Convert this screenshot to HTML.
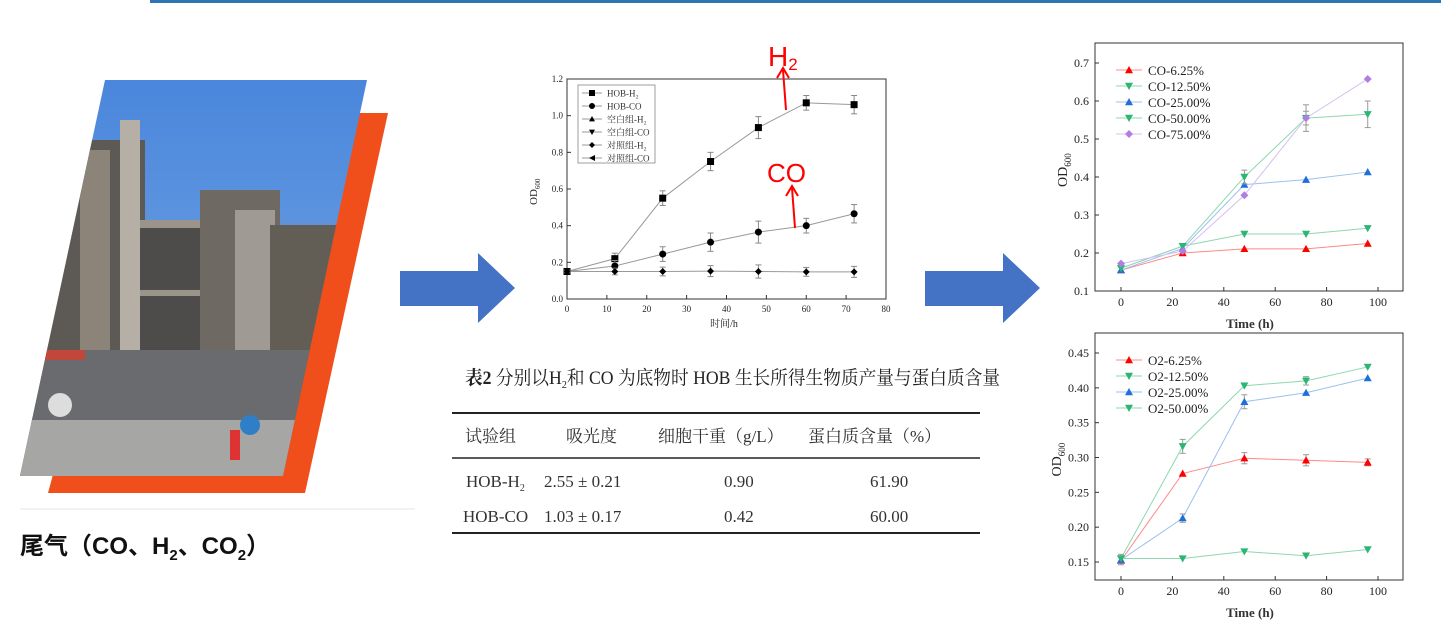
<!DOCTYPE html>
<html><head><meta charset="utf-8"><style>
html,body{margin:0;padding:0;background:#fff;width:1441px;height:622px;overflow:hidden}
svg{display:block}
.s{font-family:"Liberation Serif","Noto Serif CJK SC",serif}
.k{font-family:"Liberation Sans","Noto Sans CJK SC",sans-serif}
</style></head><body>
<svg id="v" width="1441" height="622" xmlns="http://www.w3.org/2000/svg">
<rect x="150" y="0" width="1291" height="3" fill="#2e75b6"/>
<polygon points="150,113 388,113 305,493 48,493" fill="#f04e1a"/>
<defs>
<linearGradient id="sky" x1="0" y1="0" x2="0" y2="1">
<stop offset="0" stop-color="#4a86dc"/><stop offset="0.35" stop-color="#5b93de"/>
<stop offset="0.45" stop-color="#8a8f96"/><stop offset="0.75" stop-color="#6b6a68"/><stop offset="1" stop-color="#a9a8a6"/>
</linearGradient>
<clipPath id="pc"><polygon points="105,80 367,80 283,476 20,476"/></clipPath>
</defs>
<polygon points="105,80 367,80 283,476 20,476" fill="url(#sky)"/>
<g clip-path="url(#pc)">
<rect x="20" y="140" width="125" height="340" fill="#5d5a55"/>
<rect x="80" y="150" width="30" height="330" fill="#8c8478"/>
<rect x="120" y="120" width="20" height="360" fill="#b5afa5"/>
<rect x="140" y="220" width="70" height="260" fill="#4d4c4a"/>
<rect x="140" y="220" width="70" height="8" fill="#9a948a"/>
<rect x="140" y="290" width="70" height="6" fill="#9a948a"/>
<rect x="200" y="190" width="80" height="290" fill="#6e6a63"/>
<rect x="235" y="210" width="40" height="180" fill="#9f9b94"/>
<rect x="270" y="225" width="90" height="255" fill="#625d55"/>
<rect x="20" y="350" width="300" height="130" fill="#6a6b6e"/>
<rect x="20" y="420" width="300" height="60" fill="#a6a6a4"/>
<rect x="45" y="350" width="40" height="10" fill="#c0473a"/>
<circle cx="60" cy="405" r="12" fill="#ddd"/>
<circle cx="250" cy="425" r="10" fill="#2f7fc8"/>
<rect x="230" y="430" width="10" height="30" fill="#d33"/>
</g>
<line x1="20" y1="509" x2="415" y2="509" stroke="#e6e6e6" stroke-width="1"/>
<text x="20" y="554" class="k" font-size="24" font-weight="bold" fill="#111">尾气（CO、H<tspan font-size="15" dy="6">2</tspan><tspan dy="-6">、CO</tspan><tspan font-size="15" dy="6">2</tspan><tspan dy="-6">）</tspan></text>
<polygon points="400,271 478,271 478,253 515,288 478,323 478,306 400,306" fill="#4472c4"/>
<polygon points="925,271 1003,271 1003,253 1040,288 1003,323 1003,306 925,306" fill="#4472c4"/>
<g id="mid" class="s"></g>
<text x="465" y="384" class="s" font-size="19" fill="#222" textLength="535" lengthAdjust="spacingAndGlyphs"><tspan font-weight="bold">表2</tspan> 分别以H<tspan font-size="11" dy="4">2</tspan><tspan dy="-4">和 CO 为底物时 HOB 生长所得生物质产量与蛋白质含量</tspan></text>
<line x1="452" y1="413" x2="980" y2="413" stroke="#222" stroke-width="2"/>
<line x1="452" y1="458" x2="980" y2="458" stroke="#222" stroke-width="1.5"/>
<line x1="452" y1="533" x2="980" y2="533" stroke="#222" stroke-width="2"/>
<g class="s" font-size="17" fill="#333">
<text x="465" y="442">试验组</text><text x="566" y="442">吸光度</text>
<text x="658" y="442">细胞干重（g/L）</text><text x="808" y="442">蛋白质含量（%）</text>
<text x="466" y="487">HOB-H<tspan font-size="10" dy="4">2</tspan></text>
<text x="544" y="487">2.55 ± 0.21</text><text x="724" y="487">0.90</text><text x="870" y="487">61.90</text>
<text x="463" y="522">HOB-CO</text>
<text x="544" y="522">1.03 ± 0.17</text><text x="724" y="522">0.42</text><text x="870" y="522">60.00</text>
</g>
<g id="r1" class="s"></g>
<g id="r2" class="s"></g>
</svg>
<script>
const NS="http://www.w3.org/2000/svg";
function el(p,t,a,txt){const e=document.createElementNS(NS,t);for(const k in a)e.setAttribute(k,a[k]);if(txt!==undefined)e.textContent=txt;p.appendChild(e);return e;}
function mk(g,x,y,shape,col,s){
 if(shape=='sq')el(g,'rect',{x:x-s,y:y-s,width:2*s,height:2*s,fill:col});
 else if(shape=='c')el(g,'circle',{cx:x,cy:y,r:s,fill:col});
 else if(shape=='up')el(g,'polygon',{points:`${x},${y-s} ${x+s},${y+s*0.8} ${x-s},${y+s*0.8}`,fill:col});
 else if(shape=='dn')el(g,'polygon',{points:`${x},${y+s} ${x+s},${y-s*0.8} ${x-s},${y-s*0.8}`,fill:col});
 else if(shape=='d')el(g,'polygon',{points:`${x},${y-s} ${x+s},${y} ${x},${y+s} ${x-s},${y}`,fill:col});
 else if(shape=='l')el(g,'polygon',{points:`${x-s},${y} ${x+s},${y-s} ${x+s},${y+s}`,fill:col});
}
(function(){
 const g=document.getElementById('mid');
 const X0=567,X1=886,Y0=299,Y1=79;
 const fx=v=>X0+(X1-X0)*v/80, fy=v=>Y0-(Y0-Y1)*v/1.2;
 el(g,'rect',{x:X0,y:Y1,width:X1-X0,height:Y0-Y1,fill:'none',stroke:'#333','stroke-width':1});
 for(let i=0;i<=6;i++){const v=i*0.2,y=fy(v);el(g,'line',{x1:X0,y1:y,x2:X0+4,y2:y,stroke:'#333'});el(g,'text',{x:X0-4,y:y+3,'font-size':9,'text-anchor':'end',fill:'#222'},v.toFixed(1));}
 for(let i=0;i<=8;i++){const x=fx(i*10);el(g,'line',{x1:x,y1:Y0,x2:x,y2:Y0-4,stroke:'#333'});el(g,'text',{x:x,y:Y0+13,'font-size':9,'text-anchor':'middle',fill:'#222'},i*10);}
 el(g,'text',{x:724,y:327,'font-size':10,'text-anchor':'middle',fill:'#222'},'时间/h');
 const t=el(g,'text',{x:0,y:0,'font-size':11,transform:'translate(537,205) rotate(-90)',fill:'#222'},'OD');
 el(t,'tspan',{'font-size':7,dy:3},'600');
 const xs=[0,12,24,36,48,60,72];
 const H=[.15,.22,.55,.75,.935,1.07,1.06],C=[.15,.18,.245,.31,.365,.40,.465],F=[.15,.15,.15,.152,.15,.148,.148];
 const E=[.01,.03,.04,.05,.06,.04,.05];
 [H,C,F].forEach((d,j)=>{el(g,'polyline',{points:xs.map((x,i)=>fx(x)+','+fy(d[i])).join(' '),fill:'none',stroke:'#999','stroke-width':1});
  xs.forEach((x,i)=>{const e=E[i]*(j==2?0.6:1);el(g,'line',{x1:fx(x),y1:fy(d[i]-e),x2:fx(x),y2:fy(d[i]+e),stroke:'#888'});
   el(g,'line',{x1:fx(x)-3,y1:fy(d[i]+e),x2:fx(x)+3,y2:fy(d[i]+e),stroke:'#888'});el(g,'line',{x1:fx(x)-3,y1:fy(d[i]-e),x2:fx(x)+3,y2:fy(d[i]-e),stroke:'#888'});
   mk(g,fx(x),fy(d[i]),['sq','c','d'][j],'#000',3.5);});});
 el(g,'rect',{x:578,y:85,width:77,height:78,fill:'#fff',stroke:'#888','stroke-width':0.8});
 const L=[['sq','HOB-H₂'],['c','HOB-CO'],['up','空白组-H₂'],['dn','空白组-CO'],['d','对照组-H₂'],['l','对照组-CO']];
 L.forEach((l,i)=>{const y=93+i*13;el(g,'line',{x1:582,y1:y,x2:602,y2:y,stroke:'#999'});mk(g,592,y,l[0],'#000',3);el(g,'text',{x:607,y:y+3.5,'font-size':9,fill:'#333'},l[1]);});
 el(g,'line',{x1:786,y1:110,x2:783,y2:70,stroke:'#f00','stroke-width':2});
 el(g,'polyline',{points:'777,78 783,68 789,78',fill:'none',stroke:'#f00','stroke-width':2});
 const h=el(g,'text',{x:768,y:66,'font-size':28,fill:'#f00',class:'k'},'H');el(h,'tspan',{'font-size':17,dy:4},'2');
 el(g,'line',{x1:795,y1:228,x2:792,y2:188,stroke:'#f00','stroke-width':2});
 el(g,'polyline',{points:'786,196 792,186 798,196',fill:'none',stroke:'#f00','stroke-width':2});
 el(g,'text',{x:767,y:182,'font-size':26,fill:'#f00',class:'k'},'CO');
})();
function rchart(id,top,bot,yt,ytop,ybot,dec,series,lx){
 const g=document.getElementById(id);
 const X0=1095,X1=1403,x0=1121,x100=1378;
 const fx=v=>x0+(x100-x0)*v/100, fy=v=>ybot-(ybot-ytop)*(v-yt[0])/(yt[yt.length-1]-yt[0]);
 el(g,'rect',{x:X0,y:top,width:X1-X0,height:bot-top,fill:'none',stroke:'#333','stroke-width':1});
 yt.forEach(v=>{const y=fy(v);el(g,'line',{x1:X0,y1:y,x2:X0+4,y2:y,stroke:'#333'});el(g,'text',{x:X0-6,y:y+4,'font-size':12,'text-anchor':'end',fill:'#222'},v.toFixed(dec));});
 for(let i=0;i<=5;i++){const x=fx(i*20);el(g,'line',{x1:x,y1:bot,x2:x,y2:bot-4,stroke:'#333'});el(g,'text',{x:x,y:bot+15,'font-size':12,'text-anchor':'middle',fill:'#222'},i*20);}
 el(g,'text',{x:1250,y:bot+37,'font-size':13,'font-weight':'bold','text-anchor':'middle',fill:'#333'},'Time (h)');
 const t=el(g,'text',{x:0,y:0,'font-size':14,transform:`translate(${lx},${(top+bot)/2+20}) rotate(-90)`,fill:'#222'},'OD');
 el(t,'tspan',{'font-size':9,dy:4},'600');
 const xs=[0,24,48,72,96];
 series.forEach(s=>{el(g,'polyline',{points:xs.map((x,i)=>fx(x)+','+fy(s.d[i])).join(' '),fill:'none',stroke:s.lc,'stroke-width':1});
  xs.forEach((x,i)=>{const e=(s.e||[])[i]||0;if(e){el(g,'line',{x1:fx(x),y1:fy(s.d[i]-e),x2:fx(x),y2:fy(s.d[i]+e),stroke:'#999'});el(g,'line',{x1:fx(x)-3,y1:fy(s.d[i]+e),x2:fx(x)+3,y2:fy(s.d[i]+e),stroke:'#999'});el(g,'line',{x1:fx(x)-3,y1:fy(s.d[i]-e),x2:fx(x)+3,y2:fy(s.d[i]-e),stroke:'#999'});}
   mk(g,fx(x),fy(s.d[i]),s.m,s.c,4);});});
 series.forEach((s,i)=>{const y=top+27+i*16;el(g,'line',{x1:1116,y1:y,x2:1142,y2:y,stroke:s.lc});mk(g,1129,y,s.m,s.c,4);el(g,'text',{x:1148,y:y+5,'font-size':13,fill:'#222'},s.n);});
}
rchart('r1',43,291,[0.1,0.2,0.3,0.4,0.5,0.6,0.7],63,291,1,[
 {n:'CO-6.25%',m:'up',c:'#f00',lc:'#f88',d:[.155,.2,.211,.211,.225]},
 {n:'CO-12.50%',m:'dn',c:'#2bb673',lc:'#8dd8b0',d:[.16,.218,.25,.25,.265]},
 {n:'CO-25.00%',m:'up',c:'#1e6fd9',lc:'#9cc0ef',d:[.155,.212,.38,.393,.413]},
 {n:'CO-50.00%',m:'dn',c:'#2bb673',lc:'#8dd8b0',d:[.16,.218,.40,.555,.565],e:[0,0,.018,.035,.035]},
 {n:'CO-75.00%',m:'d',c:'#b07de0',lc:'#d7c0f0',d:[.172,.205,.352,.555,.658],e:[0,0,0,.018,0]}],1067);
rchart('r2',333,580,[0.15,0.20,0.25,0.30,0.35,0.40,0.45],353,562,2,[
 {n:'O2-6.25%',m:'up',c:'#f00',lc:'#f88',d:[.152,.277,.299,.296,.293],e:[.006,0,.008,.008,.005]},
 {n:'O2-12.50%',m:'dn',c:'#2bb673',lc:'#8dd8b0',d:[.155,.316,.403,.41,.43],e:[.006,.01,0,.006,0]},
 {n:'O2-25.00%',m:'up',c:'#1e6fd9',lc:'#9cc0ef',d:[.153,.213,.38,.393,.414],e:[0,.006,.01,0,0]},
 {n:'O2-50.00%',m:'dn',c:'#2bb673',lc:'#8dd8b0',d:[.155,.155,.165,.159,.168]}],1061);
</script>
</body></html>
